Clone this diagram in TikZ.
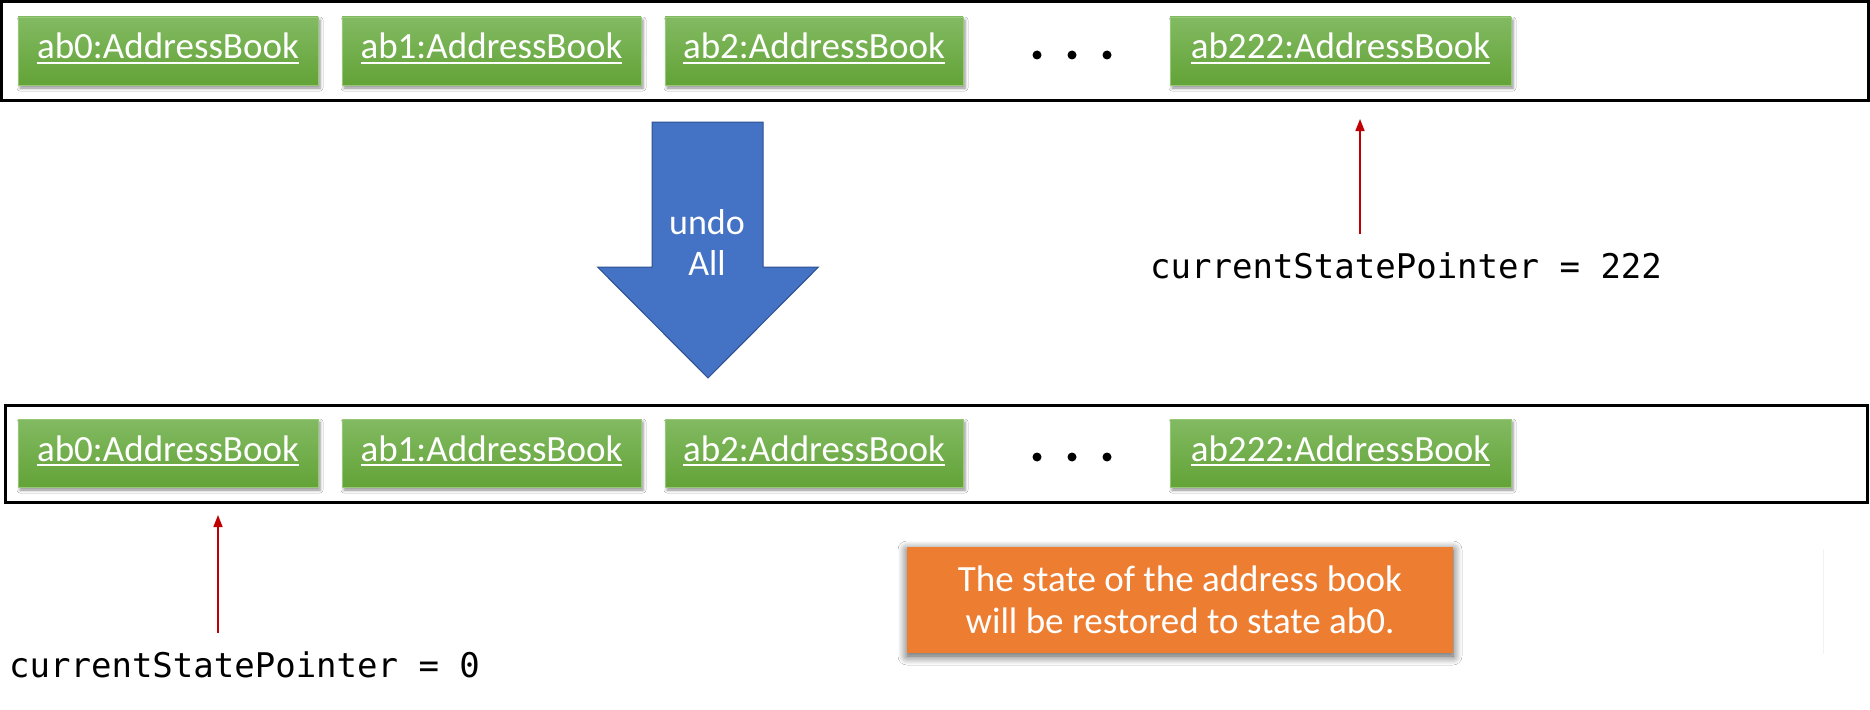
\documentclass[tikz,border=0pt]{standalone}
\usepackage{fontspec}
\usetikzlibrary{arrows.meta,shadows.blur}
\newfontfamily\calfont{Carlito}
\newfontfamily\monofont{DejaVu Sans Mono}
\definecolor{gtop}{RGB}{130,186,98}
\definecolor{gbot}{RGB}{99,163,55}
\definecolor{gedge}{RGB}{150,200,120}
\definecolor{ublue}{RGB}{68,114,196}
\definecolor{ubedge}{RGB}{47,82,143}
\definecolor{uorange}{RGB}{237,125,49}
\definecolor{ured}{RGB}{192,0,0}
\newcommand\ulbox[1]{\setbox0\hbox{#1}\rlap{\color{white}\rule[-4.75pt]{\wd0}{1.5pt}}\box0}
\tikzset{
  frame/.style={draw=black, line width=3pt},
  abox/.style={rectangle, minimum height=68pt, inner sep=0pt,
    top color=gtop, bottom color=gbot, draw=gedge, line width=0.8pt,
    text=white, font=\calfont\fontsize{37}{44}\selectfont,
    text height=26pt, text depth=10pt,
    blur shadow={shadow xshift=2pt, shadow yshift=-3pt, shadow blur radius=3pt, shadow opacity=45}},
  ptr/.style={draw=ured, line width=1.5pt, -{Triangle[length=12pt,width=9pt]}},
  ptrtext/.style={inner sep=0pt, anchor=base west, font=\monofont\fontsize{34}{40}\selectfont},
  dot/.style={fill=black},
  note/.style={rectangle, fill=uorange, minimum width=546pt, minimum height=106pt, inner sep=0pt,
    text=white, align=center, font=\calfont\fontsize{37}{42}\selectfont,
    blur shadow={shadow xshift=0pt, shadow yshift=-3pt, shadow scale=1.0, shadow blur radius=9pt, shadow blur steps=10, shadow opacity=70}},
}
\begin{document}
\begin{tikzpicture}[x=1pt,y=-1pt]
\useasboundingbox[fill=white] (0,0) rectangle (1870,709);
% top frame
\draw[frame] (1.5,1.5) rectangle (1868,100);
\node[abox, minimum width=300pt] (t0) at (168,51) {\ulbox{ab0:AddressBook}};
\node[abox, minimum width=299pt] (t1) at (491.5,51) {\ulbox{ab1:AddressBook}};
\node[abox, minimum width=298pt] (t2) at (814,51) {\ulbox{ab2:AddressBook}};
\node[abox, minimum width=341pt] (t3) at (1340.5,51) {\ulbox{ab222:AddressBook}};
\fill[dot] (1037,55) circle (4.5) (1072,55) circle (4.5) (1107,55) circle (4.5);
% top pointer
\coordinate (p1s) at (1360,234);
\coordinate (p1e) at (1360,119);
\draw[ptr] (p1s) -- (p1e);
\node[ptrtext] (p1t) at (1150,278) {currentStatePointer = 222};
% undo arrow
\draw[fill=ublue, draw=ubedge, line width=1pt]
  (652,122) -- (763,122) -- (763,267) -- (818.5,267) -- (708,378) -- (597.5,267) -- (652,267) -- cycle;
\node[text=white, align=center, font=\calfont\fontsize{36}{41}\selectfont, inner sep=0pt] (undo) at (707,242) {undo\\All};
% bottom frame
\draw[frame] (5,405) rectangle (1867,502);
\node[abox, minimum width=300pt] (b0) at (168,453) {\ulbox{ab0:AddressBook}};
\node[abox, minimum width=299pt] (b1) at (491.5,453) {\ulbox{ab1:AddressBook}};
\node[abox, minimum width=298pt] (b2) at (814,453) {\ulbox{ab2:AddressBook}};
\node[abox, minimum width=341pt] (b3) at (1340.5,453) {\ulbox{ab222:AddressBook}};
\fill[dot] (1037,457) circle (4.5) (1072,457) circle (4.5) (1107,457) circle (4.5);
% bottom pointer
\coordinate (p2s) at (218,633);
\coordinate (p2e) at (218,515);
\draw[ptr] (p2s) -- (p2e);
\node[ptrtext] (p2t) at (9,677) {currentStatePointer = 0};
% note
\node[note] (note) at (1180,600) {The state of the address book\\will be restored to state ab0.};
\draw[black!5, line width=1pt] (1823,549) -- (1823,654);
\end{tikzpicture}
\end{document}
